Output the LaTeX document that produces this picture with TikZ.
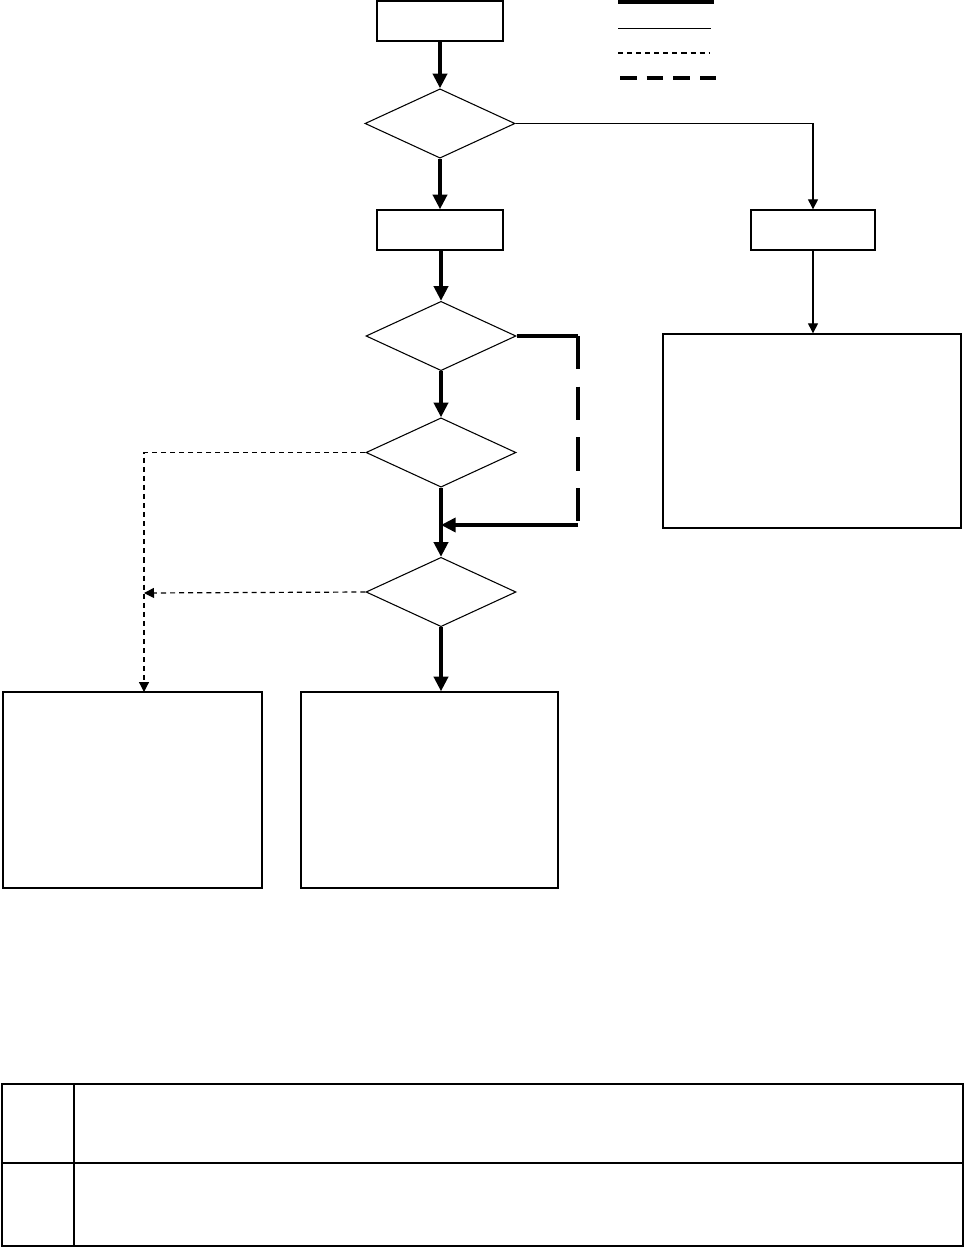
\documentclass[tikz,border=0pt]{standalone}
\usepackage{tikz}
\usetikzlibrary{arrows.meta, positioning, shapes.geometric}

\begin{document}
\begin{tikzpicture}[
            x=0.75pt, y=-0.75pt,                % 1 unidad = 1 pixel de la figura
            block/.style={
                rectangle,
                draw=black,
                line width=1pt,
                fill=white,
                inner sep=0pt
            },
            decision/.style={
                diamond,
                draw=black,
                line width=0.8pt,
                aspect=2,
                inner sep=0pt,
                minimum width=112.5pt,
                minimum height=52pt
            },
            mainline/.style={
                draw,
                line width=3pt
            },
            mainarrow/.style={
                mainline,
                -{Triangle[length=11pt, width=10.5pt]}
            },
            mainloop/.style={
                mainline,
                dash pattern=on 25pt off 13pt
            },
            sidearrow/.style={
                draw,
                line width=0.9pt,
                -{Triangle[length=7.5pt, width=7.5pt]}
            },
            dasharrow/.style={
                sidearrow,
                dash pattern=on 3.8pt off 3pt
            }
        ]
            \useasboundingbox (0,0) rectangle (965,1248);

            % --- NODOS ---
            \node [block, minimum width=94.5pt, minimum height=30pt] (start) at (440,21) {};
            \node [decision] (check1) at (440,123.5) {};
            \node [block, minimum width=94.5pt, minimum height=30pt] (procL) at (440,230) {};
            \node [block, minimum width=93pt, minimum height=30pt] (procR) at (813,230) {};
            \node [block, minimum width=223.5pt, minimum height=145.5pt] (resultR) at (812,431) {};
            \node [decision] (check2) at (441,336) {};
            \node [decision] (check3) at (441,452.5) {};
            \node [decision] (check4) at (441,592) {};
            \node [block, minimum width=194.25pt, minimum height=147pt] (resultL) at (132.5,790) {};
            \node [block, minimum width=192.75pt, minimum height=147pt] (resultM) at (429.5,790) {};

            \coordinate (loopA) at (578,336);
            \coordinate (loopB) at (578,525);
            \coordinate (join) at (441,525);
            \coordinate (leftIn) at (144,692);
            \coordinate (leftJoin) at (144,593);

            % --- ENLACES ---
            \path [mainarrow] (start) -- (check1);
            \path [sidearrow] (check1.east) -| (procR.north);
            \path [mainarrow] (check1) -- (procL);
            \path [sidearrow] (procR.south) -- (procR.south |- resultR.north);
            \path [mainarrow] (procL.south) -- (procL.south -| check2.north) -- (check2.north);
            \path [mainarrow] (check2) -- (check3);

            \path [mainline] (check2.east) -- (loopA);
            \path [mainloop] (loopA) -- (loopB);
            \path [mainarrow] (loopB) -- (join);

            \path [mainarrow] (check3) -- (check4);
            \path [dasharrow] (check3.west) -| (leftIn);
            \path [dasharrow] (check4.west) -- (leftJoin);
            \path [mainarrow] (check4.south) -- (check4.south |- resultM.north);

            % --- LEYENDA ---
            \draw [line width=3pt] (618,2) -- (714,2);
            \draw [line width=0.9pt] (618,28.5) -- (711,28.5);
            \draw [line width=0.9pt, dash pattern=on 3.8pt off 3pt] (618,53) -- (710,53);
            \draw [line width=3pt, dash pattern=on 12.5pt off 7.5pt] (620,78) -- (716,78);

            % --- TABLA ---
            \draw [line width=1.1pt] (74,1084) -- (74,1246);
            \draw [line width=1.1pt] (2,1163) -- (963,1163);
            \draw [line width=2.2pt] (2,1084) rectangle (963,1246);
        \end{tikzpicture}
\end{document}
